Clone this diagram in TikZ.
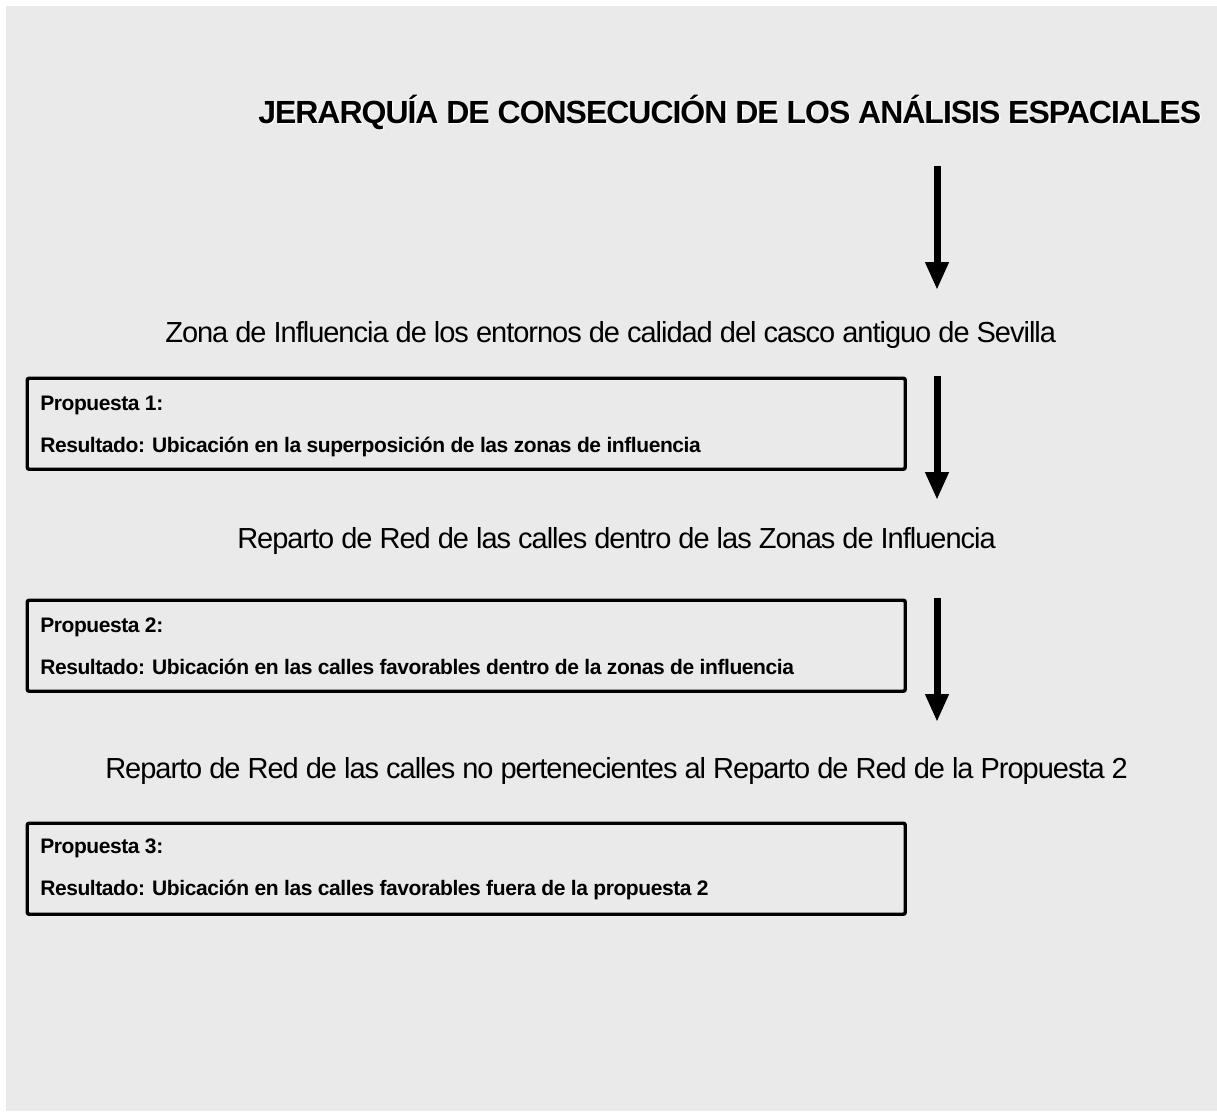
\documentclass[tikz,border=0pt]{standalone}
\usepackage{fontspec}
\setmainfont{Liberation Sans}
\newfontfamily\titlefont[LetterSpace=-3.2]{Liberation Sans}
\newfontfamily\linefont[LetterSpace=-3.5]{Liberation Sans}
\newfontfamily\boxfont[LetterSpace=-2]{Liberation Sans}
\usetikzlibrary{arrows.meta}

\begin{document}
\begin{tikzpicture}[x=0.75pt,y=0.75pt,yscale=-1,xscale=1,
  flecha/.style={line width=5.25pt,-{Triangle[width=16.5pt,length=21pt]}},
  pbox/.style={draw,line width=2.6pt,rounded corners=1.5pt,anchor=north west,minimum width=658.5pt,minimum height=68.25pt,inner sep=0pt},
  ptxt/.style={anchor=base west,inner sep=0pt,font={\boxfont\bfseries\fontsize{15.75pt}{18pt}\selectfont}},
  ltxt/.style={anchor=base west,inner sep=0pt,font={\linefont\fontsize{21.75pt}{26pt}\selectfont}}]
\useasboundingbox (0,0) rectangle (1217,1111);

%Shape: Background
\fill [color={rgb, 255:red, 234; green, 234; blue, 234 }] (6,6) rectangle (1217,1111);

% Text Node: title with shadow
\node [anchor=base west,inner sep=0pt,white,font={\titlefont\bfseries\fontsize{24pt}{28pt}\selectfont}] (titlesh) at (259.5,124.5) {JERARQUÍA DE CONSECUCIÓN DE LOS ANÁLISIS ESPACIALES};
\node [anchor=base west,inner sep=0pt,font={\titlefont\bfseries\fontsize{24pt}{28pt}\selectfont}] (title) at (258,123) {JERARQUÍA DE CONSECUCIÓN DE LOS ANÁLISIS ESPACIALES};

% Text Nodes: analysis steps
\node [ltxt] (zona) at (165,342) {Zona de Influencia de los entornos de calidad del casco antiguo de Sevilla};
\node [ltxt] (red1) at (237,548) {Reparto de Red de las calles dentro de las Zonas de Influencia};
\node [ltxt] (red2) at (105,778) {Reparto de Red de las calles no pertenecientes al Reparto de Red de la Propuesta 2};

%Shape: Rectangles
\node [pbox] (box1) at (25.5,376.5) {};
\node [pbox] (box2) at (25.5,598.5) {};
\node [pbox] (box3) at (25.5,821.5) {};

% Text Nodes: proposals
\node [ptxt] (prop1) at (40,410) {Propuesta 1:};
\node [ptxt] (res1) at (40,452) {Resultado: Ubicación en la superposición de las zonas de influencia};
\node [ptxt] (prop2) at (40,632) {Propuesta 2:};
\node [ptxt] (res2) at (40,674) {Resultado: Ubicación en las calles favorables dentro de la zonas de influencia};
\node [ptxt] (prop3) at (40,853) {Propuesta 3:};
\node [ptxt] (res3) at (40,895) {Resultado: Ubicación en las calles favorables fuera de la propuesta 2};

%Straight Lines: arrows
\coordinate (a1s) at (937,166);
\coordinate (a1e) at (937,290);
\coordinate (a2s) at (937,376);
\coordinate (a2e) at (937,500);
\coordinate (a3s) at (937,598);
\coordinate (a3e) at (937,722);
\draw [flecha] (a1s) -- (a1e);
\draw [flecha] (a2s) -- (a2e);
\draw [flecha] (a3s) -- (a3e);

\end{tikzpicture}
\end{document}
